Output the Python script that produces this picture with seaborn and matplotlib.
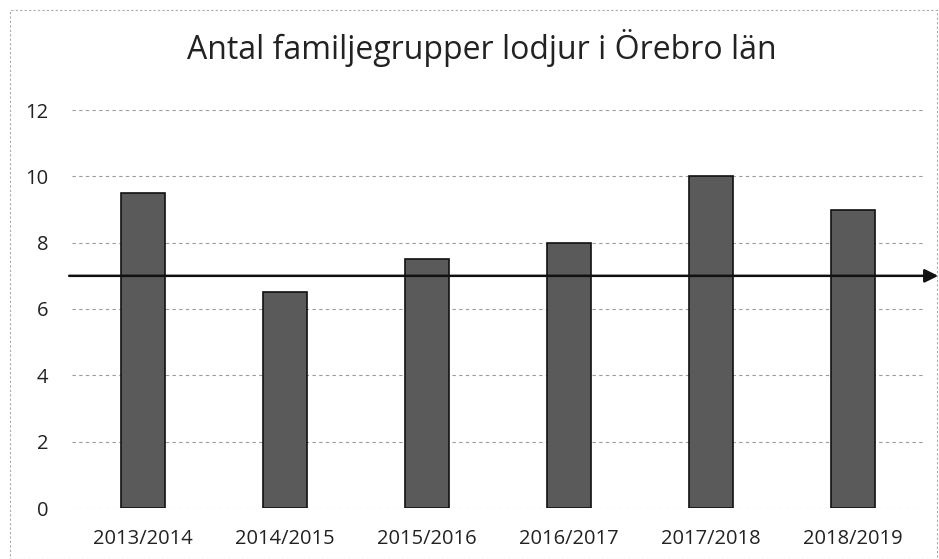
import matplotlib
matplotlib.use("Agg")
import matplotlib.pyplot as plt
import seaborn as sns
import pandas as pd
from matplotlib.patches import Rectangle

seasons = ["2013/2014", "2014/2015", "2015/2016", "2016/2017", "2017/2018", "2018/2019"]
families = [9.5, 6.5, 7.5, 8.0, 10.0, 9.0]
reference_level = 7.0
y_ticks = [0, 2, 4, 6, 8, 10, 12]
title = "Antal familjegrupper lodjur i Örebro län"

sns.set_theme(style="white")
plt.rcParams['font.family'] = ['Open Sans', 'DejaVu Sans']

df = pd.DataFrame({"season": seasons, "families": families})

fig = plt.figure(figsize=(9.39, 5.59), dpi=100)
ax = fig.add_axes([72/939, 1-508/559, (924-72)/939, (508-110)/559])

for yt in y_ticks[1:]:
    ax.axhline(yt, color="#9a9a9a", lw=0.8, ls=(0, (3, 3)), zorder=0)

sns.barplot(data=df, x="season", y="families", ax=ax, color="#5a5a5a",
            width=0.31, edgecolor="#111111", linewidth=1.2, saturation=1, zorder=2)

ax.axhline(0, color="#9a9a9a", lw=0.8, ls=(0, (3, 3)), zorder=1)

ax.annotate("", xy=(5.6, reference_level), xytext=(-0.52, reference_level),
            xycoords="data", textcoords="data",
            arrowprops=dict(arrowstyle="-|>", color="#111111", lw=1.8,
                            mutation_scale=20, shrinkA=0, shrinkB=0),
            annotation_clip=False, zorder=5)

ax.set_xlim(-0.5, 5.5)
ax.set_ylim(0, 12)
ax.set_yticks(y_ticks)
ax.set_yticklabels([str(v) for v in y_ticks], fontsize=14.5, color="#222222")
ax.set_xticks(range(len(seasons)))
ax.set_xticklabels(seasons, fontsize=14.5, color="#222222")
ax.tick_params(axis="x", pad=15, length=0)
ax.tick_params(axis="y", pad=17, length=0)
ax.set_xlabel("")
ax.set_ylabel("")
for s in ax.spines.values():
    s.set_visible(False)

fig.text(482/939, 1-48/559, title, ha="center", va="center", fontsize=23, color="#222222")

fig.patches.append(Rectangle((10/939, 0), 1-12/939, 1-10/559, transform=fig.transFigure,
                             fill=False, edgecolor="#aaaaaa", lw=0.8, ls=(0, (2, 2))))

fig.savefig("out.png", dpi=100)
